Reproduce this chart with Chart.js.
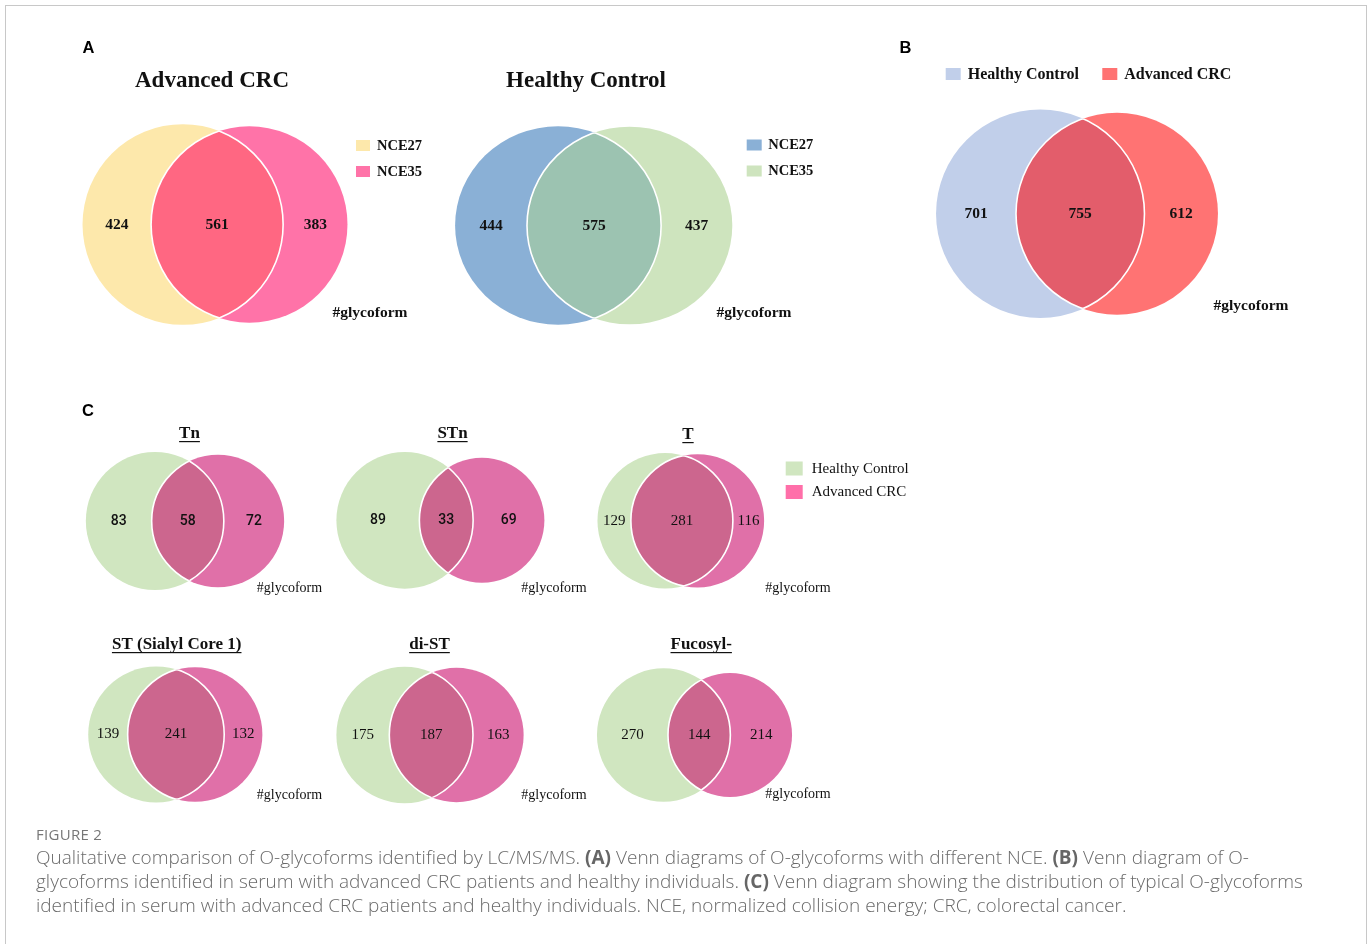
<!DOCTYPE html>
<html>
<head>
<meta charset="utf-8">
<title>O-glycoform Venn diagrams</title>
<script src="https://cdn.jsdelivr.net/npm/chart.js@4.4.1/dist/chart.umd.min.js"></script>
<style>
  html, body { margin: 0; padding: 0; background: #fff; }
  #page { position: relative; width: 1370px; height: 944px; overflow: hidden; }
  #frame { position: absolute; left: 5px; top: 5px; width: 1362px; height: 1000px;
           border: 1px solid #c8c8c8; box-sizing: border-box; }
  #venn { position: absolute; left: 0; top: 0; }
  #caption { position: absolute; left: 36px; top: 823px; color: #6a6a6a;
             font-family: "Open Sans", Lato, sans-serif; font-weight: 300; }
  #caption .fig { font-size: 15px; line-height: 22px; font-weight: 400; color: #777; letter-spacing: 0.3px; }
  #caption .ln { font-size: 19px; line-height: 24px; white-space: nowrap; }
  #caption b { font-weight: 700; color: #666; }
</style>
</head>
<body>
<div id="page">
  <div id="frame"></div>
  <canvas id="venn" width="1370" height="944"></canvas>
  <div id="caption">
    <div class="fig">FIGURE 2</div>
    <div class="ln">Qualitative comparison of O-glycoforms identified by LC/MS/MS. <b>(A)</b> Venn diagrams of O-glycoforms with different NCE. <b>(B)</b> Venn diagram of O-</div>
    <div class="ln">glycoforms identified in serum with advanced CRC patients and healthy individuals. <b>(C)</b> Venn diagram showing the distribution of typical O-glycoforms</div>
    <div class="ln">identified in serum with advanced CRC patients and healthy individuals. NCE, normalized collision energy; CRC, colorectal cancer.</div>
  </div>
</div>
<script>
// counts per diagram: A-only, shared, B-only
const vennTitles = ["Advanced CRC", "Healthy Control", "", "Tn", "STn", "T", "ST (Sialyl Core 1)", "di-ST", "Fucosyl-"];
const onlyFirst  = [424, 444, 701, 83, 89, 129, 139, 175, 270];
const shared     = [561, 575, 755, 58, 33, 281, 241, 187, 144];
const onlySecond = [383, 437, 612, 72, 69, 116, 132, 163, 214];
const nceNames    = ["NCE27", "NCE35"];
const groupNames  = ["Healthy Control", "Advanced CRC"];
const unitLabel   = "#glycoform";
const panelLetters = ["A", "B", "C"];

// placement of each diagram: middle x, centre y, px per sqrt(count)
const SERIF = '"Liberation Serif", "Times New Roman", serif';
const colA1 = ["#FDE8AB", "#FF73A8", "#FF6782"];
const colA2 = ["#8AB0D6", "#CEE4BE", "#9CC3B1"];
const colB  = ["#C1CFEA", "#FF7373", "#E35D6B"];
const colC  = ["#D0E6C0", "#E070A8", "#CC668E"];
const bigNum = "bold 15.5px " + SERIF;
const smallNum = "15px " + SERIF;
const sansNum = '500 14px Roboto, "Liberation Sans", sans-serif';
const layout = [
  { mx: 215,    cy: 224.5, kx: 3.196, ky: 3.196, col: colA1, font: bigNum },
  { mx: 593.7,  cy: 225.5, kx: 3.227, ky: 3.108, col: colA2, font: bigNum },
  { mx: 1077,   cy: 213.7, kx: 2.731, ky: 2.731, col: colB,  font: bigNum },
  { mx: 185,    cy: 521,   kx: 5.81,  ky: 5.81,  col: colC,  font: sansNum },
  { mx: 440.4,  cy: 520.3, kx: 6.19,  ky: 6.19,  col: colC,  font: sansNum },
  { mx: 680.8,  cy: 520.8, kx: 3.344, ky: 3.344, col: colC,  font: smallNum },
  { mx: 175.3,  cy: 734.5, kx: 3.488, ky: 3.488, col: colC,  font: smallNum },
  { mx: 430,    cy: 735,   kx: 3.59,  ky: 3.59,  col: colC,  font: smallNum },
  { mx: 694.5,  cy: 735,   kx: 3.278, ky: 3.278, col: colC,  font: smallNum }
];
// titles: A/B panels plain, C panels underlined
const titlePos = [[212, 81.5], [586, 81.5], null, [189.5, 434], [452.5, 434], [688, 435],
                  [176.7, 645], [429.5, 645], [701.2, 645]];
const unitPos = [[370, 313.3], [754, 313.3], [1251, 306], [289.5, 588.3], [554, 588.3], [798, 588.3],
                 [289.5, 795.7], [554, 795.7], [798, 794.3]];
const letterPos = [[82.5, 48.5], [899.5, 48.5], [82, 411]];

// area of the overlap of two circles at distance d
function lensArea(r1, r2, d) {
  if (d >= r1 + r2) return 0;
  if (d <= Math.abs(r1 - r2)) return Math.PI * Math.min(r1, r2) ** 2;
  const a1 = Math.acos((d * d + r1 * r1 - r2 * r2) / (2 * d * r1));
  const a2 = Math.acos((d * d + r2 * r2 - r1 * r1) / (2 * d * r2));
  return r1 * r1 * (a1 - Math.sin(2 * a1) / 2) + r2 * r2 * (a2 - Math.sin(2 * a2) / 2);
}

// area-proportional layout: circle area = pi * count
function solveVenn(a, ab, b) {
  const rA = Math.sqrt(a + ab), rB = Math.sqrt(b + ab);
  const target = Math.PI * ab;
  let lo = Math.abs(rA - rB), hi = rA + rB;
  for (let i = 0; i < 60; i++) {
    const mid = (lo + hi) / 2;
    if (lensArea(rA, rB, mid) > target) lo = mid; else hi = mid;
  }
  return { rA, rB, d: (lo + hi) / 2 };
}

const diagrams = shared.map((ab, i) => {
  const g = solveVenn(onlyFirst[i], ab, onlySecond[i]);
  const L = layout[i];
  const xA = L.mx - L.kx * (g.d + g.rB - g.rA) / 2;
  const xB = xA + L.kx * g.d;
  return {
    xA, xB, cy: L.cy,
    rxA: L.kx * g.rA, ryA: L.ky * g.rA,
    rxB: L.kx * g.rB, ryB: L.ky * g.rB
  };
});

function drawText(ctx, str, x, y, font, align, color) {
  ctx.font = font;
  ctx.fillStyle = color || "#111";
  ctx.textAlign = align || "center";
  ctx.textBaseline = "middle";
  ctx.fillText(str, x, y);
}

const vennPlugin = {
  id: "vennDiagrams",
  afterDraw(chart) {
    const { ctx, scales: { x, y } } = chart;
    const px = v => x.getPixelForValue(v);
    const py = v => y.getPixelForValue(v);
    const sx = r => Math.abs(px(r) - px(0));
    const sy = r => Math.abs(py(r) - py(0));

    diagrams.forEach((g, i) => {
      const L = layout[i];
      const cy = py(g.cy);
      const shapeA = () => { ctx.beginPath(); ctx.ellipse(px(g.xA), cy, sx(g.rxA), sy(g.ryA), 0, 0, 2 * Math.PI); };
      const shapeB = () => { ctx.beginPath(); ctx.ellipse(px(g.xB), cy, sx(g.rxB), sy(g.ryB), 0, 0, 2 * Math.PI); };
      ctx.save();
      shapeA(); ctx.fillStyle = L.col[0]; ctx.fill();
      shapeB(); ctx.fillStyle = L.col[1]; ctx.fill();
      // overlap region
      ctx.save();
      shapeA(); ctx.clip();
      shapeB(); ctx.fillStyle = L.col[2]; ctx.fill();
      ctx.strokeStyle = "#fff"; ctx.lineWidth = 1.6; ctx.stroke();
      ctx.restore();
      ctx.save();
      shapeB(); ctx.clip();
      shapeA(); ctx.strokeStyle = "#fff"; ctx.lineWidth = 1.6; ctx.stroke();
      ctx.restore();
      ctx.restore();

      const leftA = g.xA - g.rxA, rightA = g.xA + g.rxA;
      const leftB = g.xB - g.rxB, rightB = g.xB + g.rxB;
      drawText(ctx, String(onlyFirst[i]), px((leftA + leftB) / 2), cy, L.font);
      drawText(ctx, String(shared[i]), px((leftB + rightA) / 2), cy, L.font);
      drawText(ctx, String(onlySecond[i]), px((rightA + rightB) / 2), cy, L.font);

      const up = unitPos[i];
      drawText(ctx, unitLabel, px(up[0]), py(up[1]), i < 3 ? "bold 15.5px " + SERIF : "14px " + SERIF);

      const tp = titlePos[i];
      if (tp) {
        if (i < 3) {
          drawText(ctx, vennTitles[i], px(tp[0]), py(tp[1]), "bold 23px " + SERIF);
        } else {
          drawText(ctx, vennTitles[i], px(tp[0]), py(tp[1]), "bold 17px " + SERIF);
          const w = ctx.measureText(vennTitles[i]).width;
          ctx.fillStyle = "#111";
          ctx.fillRect(px(tp[0]) - w / 2, py(tp[1]) + 7, w, 1.2);
        }
      }
    });

    // legends
    const legendRows = (names, cols, x0, ys, w, h, font, gap) => {
      names.forEach((n, j) => {
        ctx.fillStyle = cols[j];
        ctx.fillRect(px(x0), py(ys[j]) - h / 2, w, h);
        drawText(ctx, n, px(x0) + w + gap, py(ys[j]) + 0.5, font, "left");
      });
    };
    legendRows(nceNames, colA1, 356, [145.5, 171.5], 14, 11, "bold 14.5px " + SERIF, 7);
    legendRows(nceNames, colA2, 746.7, [145, 171], 15, 11, "bold 14.5px " + SERIF, 6.5);
    legendRows(groupNames, ["#D0E6C0", "#FF6FA9"], 785.7, [468.5, 492], 17, 14, "15px " + SERIF, 9);
    // panel B legend is laid out in one row
    [[945.7, colB[0]], [1102.3, colB[1]]].forEach(([lx, c], j) => {
      ctx.fillStyle = c;
      ctx.fillRect(px(lx), py(74) - 6, 15, 12);
      drawText(ctx, groupNames[j], px(lx) + 22, py(74) + 0.5, "bold 16px " + SERIF, "left");
    });

    panelLetters.forEach((l, j) => {
      drawText(ctx, l, px(letterPos[j][0]), py(letterPos[j][1]), 'bold 16.5px "Liberation Sans", Arial, sans-serif', "left", "#000");
    });
  }
};

new Chart(document.getElementById("venn"), {
  type: "scatter",
  data: { datasets: [] },
  options: {
    responsive: false,
    animation: false,
    layout: { padding: 0 },
    plugins: { legend: { display: false }, tooltip: { enabled: false } },
    scales: {
      x: { type: "linear", min: 0, max: 1370, display: false },
      y: { type: "linear", min: 0, max: 944, reverse: true, display: false }
    }
  },
  plugins: [vennPlugin]
});
</script>
</body>
</html>
